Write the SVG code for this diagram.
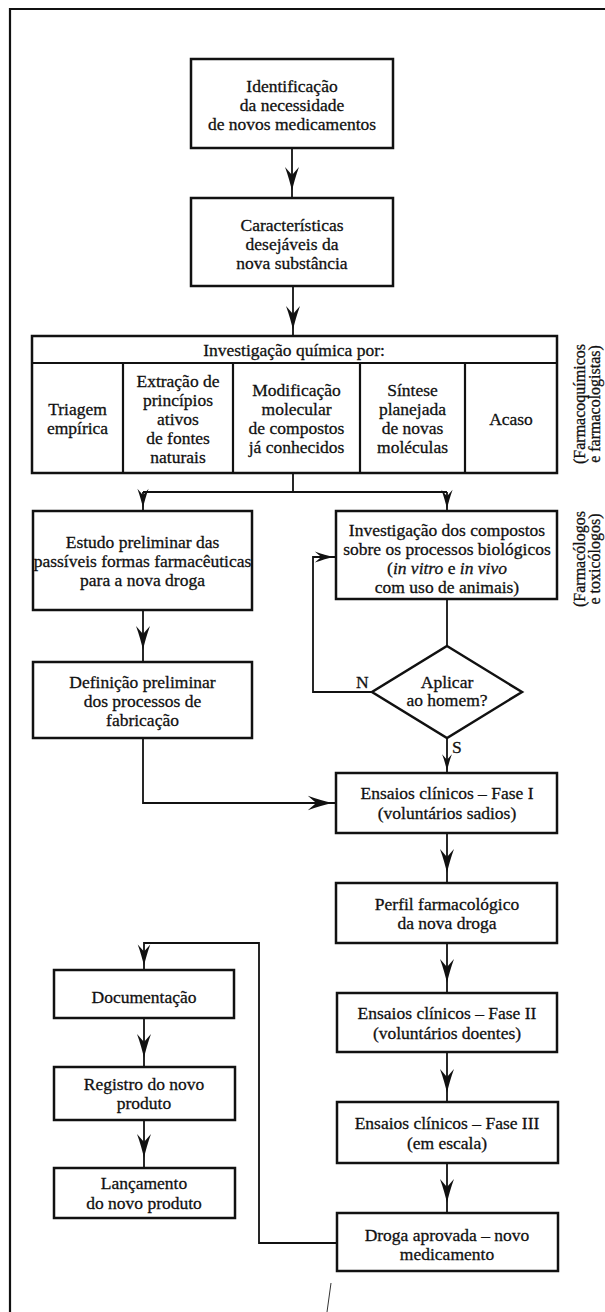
<svg xmlns="http://www.w3.org/2000/svg" width="605" height="1312" viewBox="0 0 605 1312">
<style>
  .box{fill:#fff;stroke:#111;stroke-width:2.5}
  .grid{fill:none;stroke:#111;stroke-width:2.2}
  .ln{fill:none;stroke:#111;stroke-width:1.8}
  .frame{fill:none;stroke:#111;stroke-width:2.2}
  .ah{fill:#111}
  text{font-family:"Liberation Serif","Times New Roman",serif;font-size:17.5px;fill:#111;stroke:#111;stroke-width:0.3;text-anchor:middle}
  .side{font-size:16px}
  .lbl{text-anchor:start}
  .it{font-style:italic}
</style>
<defs>
  <path id="ah" d="M0,0 C-1.5,-7 -4,-16 -7,-24 L0,-16 L7,-24 C4,-16 1.5,-7 0,0 Z"/>
</defs>
<rect width="605" height="1312" fill="#fff"/>
<path class="frame" d="M10,1312 V9 H605"/>
<path d="M331,1283 L327,1312" stroke="#333" stroke-width="1" fill="none"/>

<g id="connectors">
  <path class="ln" d="M292,148 V198"/>
  <path class="ln" d="M293,286 V336"/>
  <path class="ln" d="M293,473 V492 M143,492 H447 M143,492 V511 M447,492 V511"/>
  <path class="ln" d="M143,610 V662"/>
  <path class="ln" d="M143,738 V803 H336"/>
  <path class="ln" d="M447,599 V646"/>
  <path class="ln" d="M372,692 H313 V557 H336"/>
  <path class="ln" d="M447,738 V773"/>
  <path class="ln" d="M447,833 V883"/>
  <path class="ln" d="M447,943 V993"/>
  <path class="ln" d="M447,1052 V1102"/>
  <path class="ln" d="M447,1163 V1213"/>
  <path class="ln" d="M337,1243 H259 V943 H144 V970"/>
  <path class="ln" d="M144,1018 V1067"/>
  <path class="ln" d="M144,1120 V1168"/>
  <use href="#ah" class="ah" transform="translate(292,191)"/>
  <use href="#ah" class="ah" transform="translate(293,330)"/>
  <use href="#ah" class="ah" transform="translate(143,508) scale(0.8)"/>
  <use href="#ah" class="ah" transform="translate(447,509) scale(0.8)"/>
  <use href="#ah" class="ah" transform="translate(143,650)"/>
  <use href="#ah" class="ah" transform="translate(334,557) rotate(-90) scale(0.8)"/>
  <use href="#ah" class="ah" transform="translate(447,771) scale(0.7)"/>
  <use href="#ah" class="ah" transform="translate(333,803) rotate(-90) scale(1.05)"/>
  <use href="#ah" class="ah" transform="translate(447,873)"/>
  <use href="#ah" class="ah" transform="translate(447,983)"/>
  <use href="#ah" class="ah" transform="translate(447,1093)"/>
  <use href="#ah" class="ah" transform="translate(447,1203)"/>
  <use href="#ah" class="ah" transform="translate(144,966) scale(0.9)"/>
  <use href="#ah" class="ah" transform="translate(144,1058)"/>
  <use href="#ah" class="ah" transform="translate(144,1158)"/>
</g>

<g id="n-identificacao">
  <rect class="box" x="191" y="59" width="202" height="89"/>
  <text x="292" y="92">Identificação</text>
  <text x="292" y="111">da necessidade</text>
  <text x="292" y="130">de novos medicamentos</text>
</g>

<g id="n-caracteristicas">
  <rect class="box" x="191" y="198" width="202" height="88"/>
  <text x="292" y="231">Características</text>
  <text x="292" y="250">desejáveis da</text>
  <text x="292" y="269">nova substância</text>
</g>

<g id="n-investigacao-quimica">
  <rect class="box" x="32" y="336" width="525" height="137"/>
  <path class="grid" d="M32,363 H557 M123,363 V473 M233,363 V473 M360,363 V473 M465,363 V473"/>
  <text x="294" y="356">Investigação química por:</text>
  <text x="77.5" y="415">Triagem</text>
  <text x="77.5" y="434">empírica</text>
  <text x="178" y="387">Extração de</text>
  <text x="178" y="406">princípios</text>
  <text x="178" y="425">ativos</text>
  <text x="178" y="444">de fontes</text>
  <text x="178" y="463">naturais</text>
  <text x="296.5" y="396">Modificação</text>
  <text x="296.5" y="415">molecular</text>
  <text x="296.5" y="434">de compostos</text>
  <text x="296.5" y="453">já conhecidos</text>
  <text x="412.5" y="396">Síntese</text>
  <text x="412.5" y="415">planejada</text>
  <text x="412.5" y="434">de novas</text>
  <text x="412.5" y="453">moléculas</text>
  <text x="511" y="425">Acaso</text>
</g>

<g id="lbl-farmacoquimicos">
  <text class="side" transform="translate(585,404) rotate(-90)">(Farmacoquímicos</text>
  <text class="side" transform="translate(600,404) rotate(-90)">e farmacologistas)</text>
</g>

<g id="lbl-farmacologos">
  <text class="side" transform="translate(585,559) rotate(-90)">(Farmacólogos</text>
  <text class="side" transform="translate(600,559) rotate(-90)">e toxicólogos)</text>
</g>

<g id="n-estudo">
  <rect class="box" x="33" y="511" width="219" height="99"/>
  <text x="142.5" y="548">Estudo preliminar das</text>
  <text x="142.5" y="567">passíveis formas farmacêuticas</text>
  <text x="142.5" y="586">para a nova droga</text>
</g>

<g id="n-investigacao-compostos">
  <rect class="box" x="336" y="511" width="221" height="88"/>
  <text x="447" y="536">Investigação dos compostos</text>
  <text x="447" y="555">sobre os processos biológicos</text>
  <text x="447" y="574">(<tspan class="it">in vitro</tspan> e <tspan class="it">in vivo</tspan></text>
  <text x="447" y="593">com uso de animais)</text>
</g>

<g id="n-definicao">
  <rect class="box" x="33" y="662" width="219" height="76"/>
  <text x="142.5" y="688">Definição preliminar</text>
  <text x="142.5" y="707">dos processos de</text>
  <text x="142.5" y="726">fabricação</text>
</g>

<g id="n-aplicar">
  <polygon class="box" points="447,646 522,692 447,738 372,692"/>
  <text x="447" y="688">Aplicar</text>
  <text x="447" y="706">ao homem?</text>
  <text class="lbl" x="356" y="688">N</text>
  <text class="lbl" x="452" y="753">S</text>
</g>

<g id="n-fase1">
  <rect class="box" x="336" y="773" width="221" height="60"/>
  <text x="447" y="799">Ensaios clínicos – Fase I</text>
  <text x="447" y="819">(voluntários sadios)</text>
</g>

<g id="n-perfil">
  <rect class="box" x="336" y="883" width="221" height="60"/>
  <text x="447" y="910">Perfil farmacológico</text>
  <text x="447" y="929">da nova droga</text>
</g>

<g id="n-fase2">
  <rect class="box" x="337" y="993" width="220" height="59"/>
  <text x="447" y="1019">Ensaios clínicos – Fase II</text>
  <text x="447" y="1039">(voluntários doentes)</text>
</g>

<g id="n-fase3">
  <rect class="box" x="337" y="1102" width="221" height="61"/>
  <text x="447" y="1129">Ensaios clínicos – Fase III</text>
  <text x="447" y="1149">(em escala)</text>
</g>

<g id="n-droga">
  <rect class="box" x="337" y="1213" width="221" height="58"/>
  <text x="447" y="1241">Droga aprovada – novo</text>
  <text x="447" y="1260">medicamento</text>
</g>

<g id="n-documentacao">
  <rect class="box" x="54" y="970" width="180" height="48"/>
  <text x="144" y="1003">Documentação</text>
</g>

<g id="n-registro">
  <rect class="box" x="54" y="1067" width="181" height="53"/>
  <text x="144" y="1090">Registro do novo</text>
  <text x="144" y="1109">produto</text>
</g>

<g id="n-lancamento">
  <rect class="box" x="54" y="1168" width="181" height="50"/>
  <text x="144" y="1189">Lançamento</text>
  <text x="144" y="1209">do novo produto</text>
</g>
</svg>
